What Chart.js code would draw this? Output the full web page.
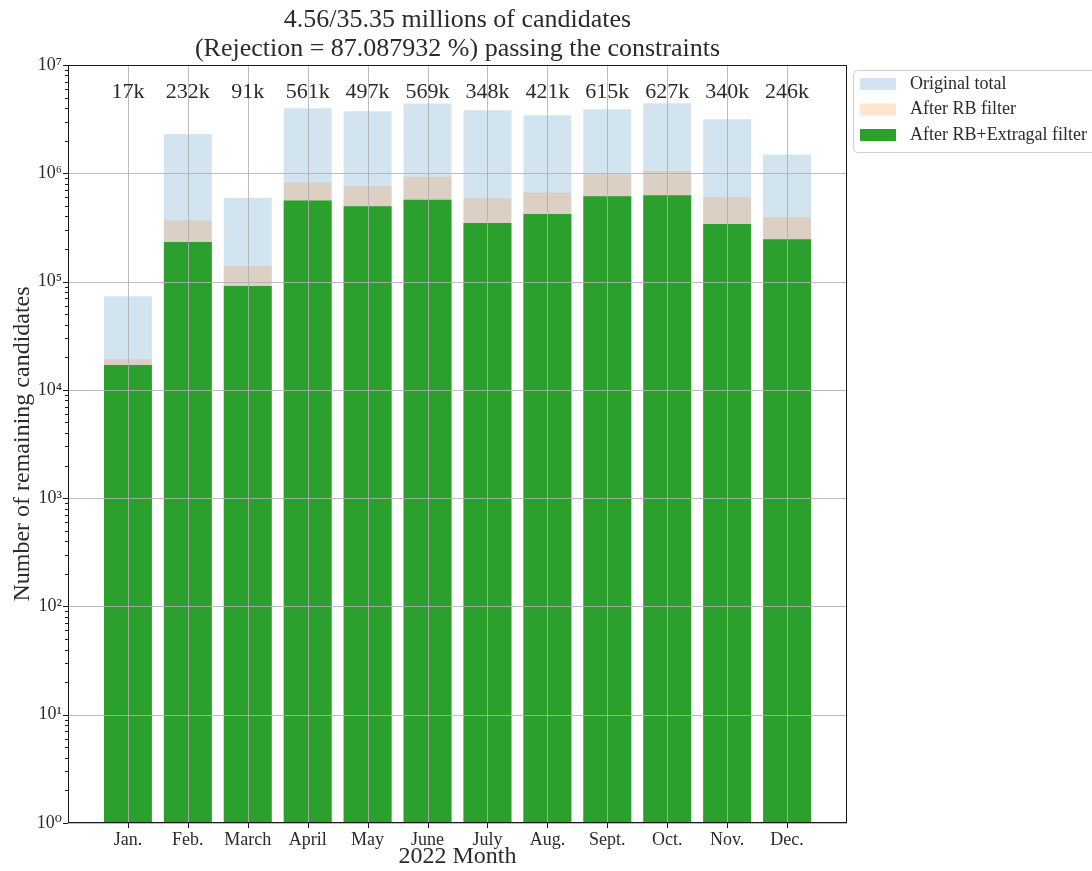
<!DOCTYPE html>
<html>
<head>
<meta charset="utf-8">
<title>Remaining candidates per month, 2022</title>
<script src="https://cdn.jsdelivr.net/npm/chart.js@4.4.1/dist/chart.umd.min.js"></script>
<style>
  html, body { margin: 0; padding: 0; background: #ffffff; }
  canvas { display: block; }
</style>
</head>
<body>
<canvas id="chart" width="1092" height="871"></canvas>
<script>
// Monthly candidate counts (2022)
const months = ['Jan.', 'Feb.', 'March', 'April', 'May', 'June', 'July', 'Aug.', 'Sept.', 'Oct.', 'Nov.', 'Dec.'];
const originalTotal = [73000, 2300000, 593000, 3990000, 3740000, 4400000, 3820000, 3440000, 3900000, 4440000, 3160000, 1490000];
const afterRB = [19200, 367000, 139000, 824000, 762000, 929000, 587000, 666000, 977000, 1050000, 603000, 392000];
const afterRBExtragal = [17000, 232000, 91000, 561000, 497000, 569000, 348000, 421000, 615000, 627000, 340000, 246000];
const seriesNames = ['Original total', 'After RB filter', 'After RB+Extragal filter'];
const titleLines = ['4.56/35.35 millions of candidates', '(Rejection = 87.087932 %) passing the constraints'];
const yExponents = [0, 1, 2, 3, 4, 5, 6, 7];

const SERIF = "'Liberation Serif', 'DejaVu Serif', serif";
const INK = '#2b2b2b';
const colors = ['rgba(31,119,180,0.2)', 'rgba(255,127,14,0.2)', '#2ca02c'];
const SUP = { '0': '\u2070', '1': '\u00b9', '2': '\u00b2', '3': '\u00b3', '4': '\u2074', '5': '\u2075', '6': '\u2076', '7': '\u2077', '8': '\u2078', '9': '\u2079' };

function asPoints(values) {
  return values.map((v, i) => ({ x: i, y: v }));
}

// Grid, frame, tick marks, value labels, title and legend drawn over the bars
const decorations = {
  id: 'decorations',
  afterDatasetsDraw(chart) {
    const { ctx, chartArea: a, scales: { x, y } } = chart;
    ctx.save();

    // grid lines sit on top of the bars
    ctx.strokeStyle = 'rgba(176,176,176,0.85)';
    ctx.lineWidth = 1;
    ctx.beginPath();
    x.ticks.forEach(t => {
      const px = Math.round(x.getPixelForValue(t.value)) + 0.5;
      ctx.moveTo(px, a.top); ctx.lineTo(px, a.bottom);
    });
    y.ticks.filter(t => t.major).forEach(t => {
      const py = Math.round(y.getPixelForValue(t.value)) + 0.5;
      ctx.moveTo(a.left, py); ctx.lineTo(a.right, py);
    });
    ctx.stroke();

    // axes frame
    ctx.strokeStyle = '#1a1a1a';
    ctx.lineWidth = 1;
    ctx.strokeRect(Math.round(a.left) + 0.5, Math.round(a.top) + 0.5,
                   Math.round(a.right - a.left) - 1, Math.round(a.bottom - a.top) - 1);

    // outward tick marks
    ctx.beginPath();
    y.ticks.forEach(t => {
      const py = Math.round(y.getPixelForValue(t.value)) + 0.5;
      const len = t.major ? 5 : 3;
      ctx.moveTo(a.left, py); ctx.lineTo(a.left - len, py);
    });
    x.ticks.forEach(t => {
      const px = Math.round(x.getPixelForValue(t.value)) + 0.5;
      ctx.moveTo(px, a.bottom); ctx.lineTo(px, a.bottom + 5);
    });
    ctx.stroke();

    // counts after both filters, written near the top of the axes
    ctx.fillStyle = INK;
    ctx.font = '22px ' + SERIF;
    ctx.textAlign = 'center';
    ctx.textBaseline = 'middle';
    afterRBExtragal.forEach((v, i) => {
      ctx.fillText(Math.round(v / 1000) + 'k', x.getPixelForValue(i), a.top + 27);
    });

    // two-line title centred on the axes
    ctx.font = '26px ' + SERIF;
    const cx = (a.left + a.right) / 2;
    ctx.fillText(titleLines[0], cx, 20);
    ctx.fillText(titleLines[1], cx, 49);

    // legend box outside the axes, upper right
    const lx = a.right + 6, ly = a.top + 5, lw = 250, lh = 82;
    ctx.fillStyle = 'rgba(255,255,255,0.8)';
    ctx.strokeStyle = '#d0d0d0';
    ctx.beginPath();
    ctx.roundRect(lx + 0.5, ly + 0.5, lw, lh, 4);
    ctx.fill();
    ctx.stroke();
    ctx.font = '18px ' + SERIF;
    ctx.textAlign = 'left';
    seriesNames.forEach((name, i) => {
      const rowY = ly + 14 + i * 25.5;
      ctx.fillStyle = colors[i];
      ctx.fillRect(lx + 7, rowY - 6, 36, 12);
      ctx.fillStyle = INK;
      ctx.fillText(name, lx + 57, rowY);
    });

    ctx.restore();
  }
};

new Chart(document.getElementById('chart'), {
  type: 'bar',
  data: {
    datasets: [
      { label: seriesNames[0], data: asPoints(originalTotal), backgroundColor: colors[0], order: 3 },
      { label: seriesNames[1], data: asPoints(afterRB), backgroundColor: colors[1], order: 2 },
      { label: seriesNames[2], data: asPoints(afterRBExtragal), backgroundColor: colors[2], order: 1 }
    ]
  },
  options: {
    responsive: false,
    animation: false,
    devicePixelRatio: 1,
    layout: { padding: { left: 0, top: 65, right: 245, bottom: 0 } },
    datasets: {
      bar: { grouped: false, barPercentage: 0.8, categoryPercentage: 1.0, borderWidth: 0 }
    },
    plugins: {
      legend: { display: false },
      title: { display: false },
      tooltip: { enabled: false }
    },
    scales: {
      x: {
        type: 'linear',
        min: -1,
        max: 12,
        offset: false,
        grid: { display: false, drawTicks: false },
        border: { display: false },
        afterBuildTicks: s => { s.ticks = months.map((_, i) => ({ value: i })); },
        afterFit: s => { s.height = 48; },
        ticks: {
          autoSkip: false,
          maxRotation: 0,
          padding: 6,
          color: INK,
          font: { family: SERIF, size: 18 },
          callback: v => months[v]
        },
        title: {
          display: true,
          text: '2022 Month',
          color: INK,
          font: { family: SERIF, size: 24 },
          padding: { top: 0, bottom: 0 }
        }
      },
      y: {
        type: 'logarithmic',
        min: 1,
        max: 1e7,
        grid: { display: false, drawTicks: false },
        border: { display: false },
        afterBuildTicks: s => {
          const ticks = [];
          yExponents.forEach(e => {
            for (let m = 1; m <= 9; m++) {
              if (e === yExponents[yExponents.length - 1] && m > 1) break;
              ticks.push({ value: m * Math.pow(10, e), major: m === 1 });
            }
          });
          s.ticks = ticks;
        },
        afterFit: s => { s.width = 68; },
        ticks: {
          autoSkip: false,
          padding: 6,
          color: INK,
          font: { family: SERIF, size: 18 },
          callback: v => {
            const e = Math.round(Math.log10(v));
            if (Math.abs(v - Math.pow(10, e)) > 1e-6 * v) return '';
            return '10' + String(e).split('').map(d => SUP[d]).join('');
          }
        },
        title: {
          display: true,
          text: 'Number of remaining candidates',
          color: INK,
          font: { family: SERIF, size: 24 },
          padding: { top: 8, bottom: 0 }
        }
      }
    }
  },
  plugins: [decorations]
});
</script>
</body>
</html>
